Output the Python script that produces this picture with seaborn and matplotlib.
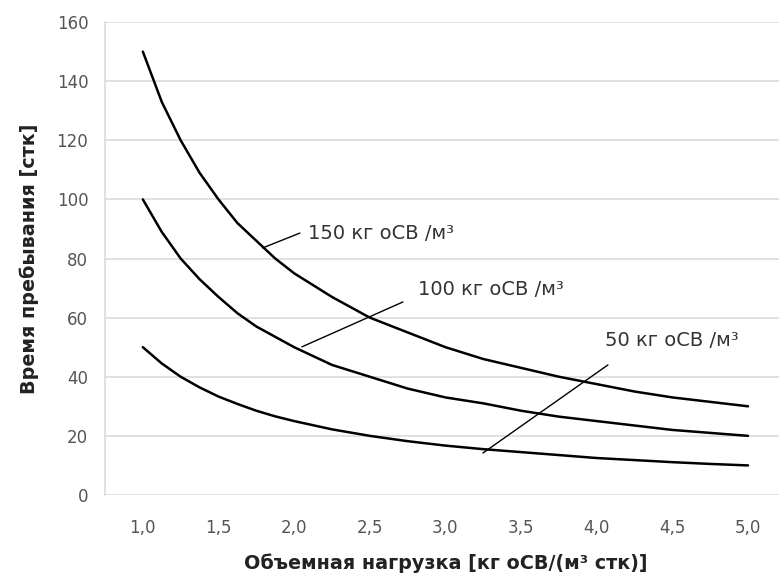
import pandas as pd
import matplotlib.pyplot as plt
import seaborn as sns

# Данные
nagruzka = [1.0, 1.125, 1.25, 1.375, 1.5, 1.625, 1.75, 1.875, 2.0, 2.25, 2.5, 2.75,
            3.0, 3.25, 3.5, 3.75, 4.0, 4.25, 4.5, 4.75, 5.0]
vremya_150 = [150, 133, 120, 109, 100, 92, 86, 80, 75, 67, 60, 55, 50, 46, 43, 40, 37.5, 35, 33, 31.5, 30]
vremya_100 = [100, 89, 80, 73, 67, 61.5, 57, 53.5, 50, 44, 40, 36, 33, 31, 28.5, 26.5, 25, 23.5, 22, 21, 20]
vremya_50 = [50, 44.5, 40, 36.4, 33.3, 30.8, 28.5, 26.6, 25, 22.2, 20, 18.2, 16.7, 15.5, 14.5, 13.5, 12.5, 11.8, 11.1, 10.5, 10]
x_ticks = [1.0, 1.5, 2.0, 2.5, 3.0, 3.5, 4.0, 4.5, 5.0]
x_tick_labels = ['1,0', '1,5', '2,0', '2,5', '3,0', '3,5', '4,0', '4,5', '5,0']
y_ticks = [0, 20, 40, 60, 80, 100, 120, 140, 160]

dados = pd.DataFrame({'x': nagruzka, '150': vremya_150, '100': vremya_100, '50': vremya_50})

sns.set_style('white')
plt.rcParams['font.family'] = ['DejaVu Sans']

fig = plt.figure(figsize=(7.79, 5.8), dpi=100)
# область графика выходит за правый край, как на оригинале
ax = fig.add_axes([0.1348, 0.1466, 0.874, 0.8154])

for col in ['150', '100', '50']:
    sns.lineplot(data=dados, x='x', y=col, color='black', linewidth=1.8, ax=ax)

ax.set_xlim(0.75, 5.25)
ax.set_ylim(0, 160)
ax.set_xticks(x_ticks)
ax.set_xticklabels(x_tick_labels)
ax.set_yticks(y_ticks)
ax.yaxis.grid(True, color='#dcdcdc', linewidth=1.2)
ax.tick_params(axis='both', length=0, labelsize=12, colors='#555555')
ax.tick_params(axis='y', pad=12)
ax.tick_params(axis='x', pad=17)
for s in ['top', 'right', 'bottom']:
    ax.spines[s].set_visible(False)
ax.spines['left'].set_color('#dcdcdc')
ax.spines['left'].set_linewidth(1.2)
for line in ax.lines:
    line.set_clip_on(False)

ax.set_xlabel('Объемная нагрузка [кг оСВ/(м³ стк)]', fontsize=13.8, fontweight='bold', labelpad=12, color='#222222')
ax.set_ylabel('Время пребывания [стк]', fontsize=13.8, fontweight='bold', labelpad=13, color='#222222')

# Подписи кривых с выносками
ax.plot([1.793, 2.038], [83.6, 88.6], color='black', linewidth=1)
ax.text(2.09, 88.6, '150 кг оСВ /м³', fontsize=14, va='center', ha='left', color='#333333')
ax.plot([2.051, 2.719], [50.1, 65.3], color='black', linewidth=1)
ax.text(2.818, 69.4, '100 кг оСВ /м³', fontsize=14, va='center', ha='left', color='#333333')
ax.plot([3.248, 4.074], [14.2, 44], color='black', linewidth=1)
ax.text(4.054, 52.4, '50 кг оСВ /м³', fontsize=14, va='center', ha='left', color='#333333')

fig.savefig('out.png', dpi=100)
